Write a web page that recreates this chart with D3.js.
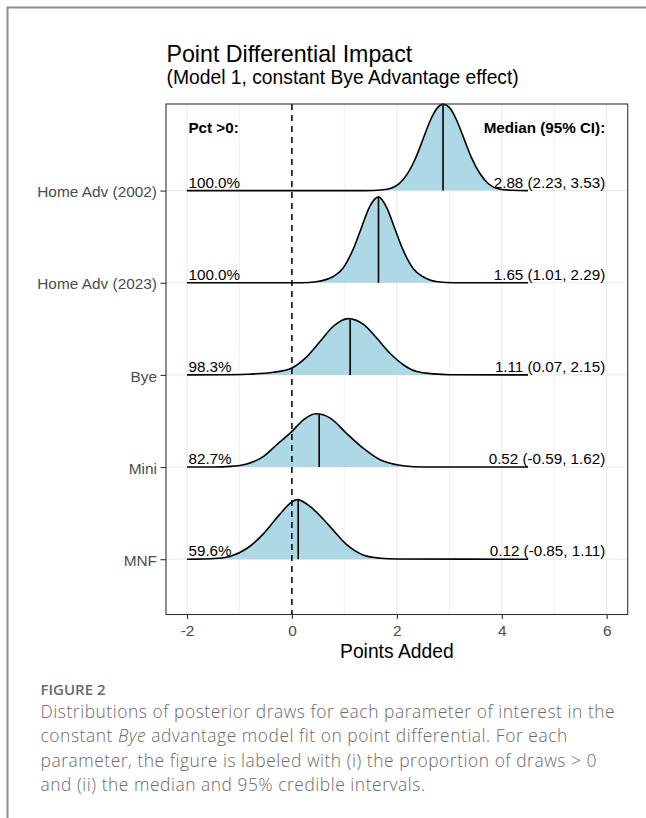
<!DOCTYPE html>
<html>
<head>
<meta charset="utf-8">
<script src="https://cdn.jsdelivr.net/npm/d3@7"></script>
<style>
  html, body { margin: 0; padding: 0; background: #fff; }
  svg { display: block; }
  .chart text { font-family: "Liberation Sans", Arial, sans-serif; }
  .caption text { font-family: "Open Sans", sans-serif; }
</style>
</head>
<body>
<svg id="fig" width="646" height="818"></svg>
<script>
// Parameters, top row first
const categories = ["Home Adv (2002)", "Home Adv (2023)", "Bye", "Mini", "MNF"];
const pctAbove = ["100.0%", "100.0%", "98.3%", "82.7%", "59.6%"];
const medians = [2.88, 1.65, 1.11, 0.52, 0.12];
const lower95 = [2.23, 1.01, 0.07, -0.59, -0.85];
const upper95 = [3.53, 2.29, 2.15, 1.62, 1.11];
const xTicks = [-2, 0, 2, 4, 6];
const xMinor = [-1, 1, 3, 5];

// Posterior density outlines: x in points, height in row units
const ridgeX2002 = [-2, 1.4, 1.7, 1.9, 2.05, 2.2, 2.35, 2.5, 2.65, 2.78, 2.88, 3.0, 3.12, 3.27, 3.42, 3.58, 3.75, 3.95, 4.2, 4.5];
const ridgeH2002 = [0, 0, 0.007, 0.029, 0.079, 0.181, 0.343, 0.56, 0.777, 0.903, 0.939, 0.903, 0.788, 0.578, 0.361, 0.188, 0.072, 0.018, 0.004, 0];
const ridgeX2023 = [-2, 0.2, 0.46, 0.78, 0.97, 1.16, 1.32, 1.48, 1.65, 1.8, 1.96, 2.12, 2.31, 2.5, 2.78, 3.1, 4.5];
const ridgeH2023 = [0, 0, 0.011, 0.065, 0.155, 0.354, 0.589, 0.824, 0.932, 0.824, 0.589, 0.354, 0.155, 0.065, 0.011, 0, 0];
const ridgeXBye = [-2, -1.3, -0.86, -0.35, 0, 0.29, 0.54, 0.79, 1.07, 1.37, 1.62, 1.87, 2.13, 2.38, 2.7, 3.0, 4.5];
const ridgeHBye = [0, 0.002, 0.007, 0.029, 0.076, 0.202, 0.365, 0.528, 0.611, 0.546, 0.397, 0.235, 0.108, 0.036, 0.011, 0.002, 0];
const ridgeXMini = [-2, -1.5, -1.17, -0.86, -0.54, -0.29, 0, 0.22, 0.46, 0.73, 1.05, 1.37, 1.68, 2.0, 2.32, 2.7, 4.5];
const ridgeHMini = [0, 0.001, 0.007, 0.033, 0.116, 0.242, 0.387, 0.513, 0.578, 0.531, 0.361, 0.199, 0.079, 0.025, 0.004, 0, 0];
const ridgeXMNF = [-2, -1.8, -1.49, -1.17, -0.86, -0.54, -0.22, 0, 0.1, 0.41, 0.73, 1.05, 1.37, 1.68, 2.0, 4.5];
const ridgeHMNF = [0, 0.001, 0.007, 0.033, 0.116, 0.278, 0.495, 0.622, 0.647, 0.542, 0.351, 0.155, 0.043, 0.011, 0.002, 0];

const ridgeXs = [ridgeX2002, ridgeX2023, ridgeXBye, ridgeXMini, ridgeXMNF];
const ridgeHs = [ridgeH2002, ridgeH2023, ridgeHBye, ridgeHMini, ridgeHMNF];

const svg = d3.select("#fig");

// Page frame
svg.append("path")
  .attr("d", "M646,7.5H7.5V818")
  .attr("fill", "none").attr("stroke", "#8c8c8c").attr("stroke-width", 2);

const chart = svg.append("g").attr("class", "chart");

const panel = { left: 166, right: 627.7, top: 104, bottom: 614.5 };
const x = d3.scaleLinear().domain([-2.4, 6.4]).range([panel.left, panel.right]);
const y = d3.scaleLinear().domain([0.4, 5.94]).range([panel.bottom, panel.top]);
const rowPos = i => categories.length - i;

// Grid
const grid = chart.append("g");
grid.selectAll(".minor").data(xMinor).join("line")
  .attr("x1", d => x(d)).attr("x2", d => x(d))
  .attr("y1", panel.top).attr("y2", panel.bottom)
  .attr("stroke", "#ebebeb").attr("stroke-width", 0.7);
grid.selectAll(".major").data(xTicks).join("line")
  .attr("x1", d => x(d)).attr("x2", d => x(d))
  .attr("y1", panel.top).attr("y2", panel.bottom)
  .attr("stroke", "#ebebeb").attr("stroke-width", 1.1);
grid.selectAll(".row").data(categories).join("line")
  .attr("x1", panel.left).attr("x2", panel.right)
  .attr("y1", (d, i) => y(rowPos(i))).attr("y2", (d, i) => y(rowPos(i)))
  .attr("stroke", "#ebebeb").attr("stroke-width", 1.1);

// Ridges
const ridges = chart.append("g");
categories.forEach((cat, i) => {
  const base = rowPos(i);
  const pts = ridgeXs[i].map((v, k) => [v, ridgeHs[i][k]]);
  const area = d3.area()
    .x(d => x(d[0])).y0(y(base)).y1(d => y(base + d[1]))
    .curve(d3.curveMonotoneX);
  const line = d3.line()
    .x(d => x(d[0])).y(d => y(base + d[1]))
    .curve(d3.curveMonotoneX);
  ridges.append("path").attr("d", area(pts)).attr("fill", "#add8e6");
  // median line up to the outline
  const xs = ridgeXs[i], hs = ridgeHs[i], m = medians[i];
  const k = d3.bisectRight(xs, m);
  const t = (m - xs[k - 1]) / (xs[k] - xs[k - 1]);
  const hm = hs[k - 1] + t * (hs[k] - hs[k - 1]);
  ridges.append("line")
    .attr("x1", x(m)).attr("x2", x(m))
    .attr("y1", y(base)).attr("y2", y(base + hm))
    .attr("stroke", "#000").attr("stroke-width", 1.6);
  ridges.append("path").attr("d", line(pts))
    .attr("fill", "none").attr("stroke", "#000").attr("stroke-width", 1.6);
});

// Zero reference
chart.append("line")
  .attr("x1", x(0)).attr("x2", x(0))
  .attr("y1", panel.top).attr("y2", panel.bottom)
  .attr("stroke", "#000").attr("stroke-width", 1.5)
  .attr("stroke-dasharray", "6,5");

// Panel border
chart.append("rect")
  .attr("x", panel.left).attr("y", panel.top)
  .attr("width", panel.right - panel.left).attr("height", panel.bottom - panel.top)
  .attr("fill", "none").attr("stroke", "#333").attr("stroke-width", 1.1);

// Axes
const xAxis = chart.append("g")
  .attr("transform", `translate(0,${panel.bottom})`)
  .call(d3.axisBottom(x).tickValues(xTicks).tickSize(4.5).tickPadding(6.2).tickFormat(d => String(d)));
xAxis.select(".domain").remove();
xAxis.selectAll("line").attr("stroke", "#333").attr("stroke-width", 1.1);
xAxis.selectAll("text").attr("fill", "#4d4d4d").style("font-size", "15.4px")
  .style("font-family", "'Liberation Sans', Arial, sans-serif");

const yAxis = chart.append("g")
  .attr("transform", `translate(${panel.left},0)`)
  .call(d3.axisLeft(y).tickValues(categories.map((c, i) => rowPos(i)))
    .tickFormat(v => categories[categories.length - v]).tickSize(5.5).tickPadding(3.5));
yAxis.select(".domain").remove();
yAxis.selectAll("line").attr("stroke", "#333").attr("stroke-width", 1.1);
yAxis.selectAll("text").attr("fill", "#4d4d4d").attr("dy", "0.4em").style("font-size", "15.4px")
  .style("font-family", "'Liberation Sans', Arial, sans-serif");

// Row labels
const labels = chart.append("g").style("font-size", "15.2px").attr("fill", "#000");
labels.append("text").attr("x", x(-2) + 1.5).attr("y", 133.3)
  .attr("font-weight", "bold").text("Pct >0:");
labels.append("text").attr("x", x(6) - 1.5).attr("y", 133.3)
  .attr("text-anchor", "end").attr("font-weight", "bold").text("Median (95% CI):");
labels.selectAll(".pct").data(categories).join("text")
  .attr("x", x(-2) + 1.5).attr("y", (d, i) => y(rowPos(i)) - 2.8)
  .text((d, i) => pctAbove[i]);
labels.selectAll(".ci").data(categories).join("text")
  .attr("x", x(6) - 1.5).attr("y", (d, i) => y(rowPos(i)) - 2.8)
  .attr("text-anchor", "end")
  .text((d, i) => `${medians[i].toFixed(2)} (${lower95[i].toFixed(2)}, ${upper95[i].toFixed(2)})`);

// Titles
chart.append("text").attr("x", panel.left + 0.5).attr("y", 62.3)
  .style("font-size", "23.2px").attr("fill", "#000").text("Point Differential Impact");
chart.append("text").attr("x", panel.left + 0.5).attr("y", 84.3)
  .style("font-size", "19.3px").attr("fill", "#000").text("(Model 1, constant Bye Advantage effect)");
chart.append("text").attr("x", (panel.left + panel.right) / 2).attr("y", 658.3)
  .attr("text-anchor", "middle").style("font-size", "19.3px").attr("fill", "#000").text("Points Added");

// Caption
const cap = svg.append("g").attr("class", "caption").attr("fill", "#6a6a6a");
cap.append("text").attr("x", 40.5).attr("y", 694.5)
  .style("font-size", "15px").attr("font-weight", 600).text("FIGURE 2");
const capLines = [
  ["Distributions of posterior draws for each parameter of interest in the"],
  ["constant ", "Bye", " advantage model fit on point differential. For each"],
  ["parameter, the figure is labeled with (i) the proportion of draws > 0"],
  ["and (ii) the median and 95% credible intervals."]
];
capLines.forEach((parts, li) => {
  const t = cap.append("text").attr("x", 40.5).attr("y", 718.2 + li * 24.2)
    .style("font-size", "17.4px").style("letter-spacing", "0.55px").attr("font-weight", 300);
  parts.forEach((p, pi) => {
    const s = t.append("tspan").text(p);
    if (li === 1 && pi === 1) s.attr("font-style", "italic");
  });
});
</script>
</body>
</html>
